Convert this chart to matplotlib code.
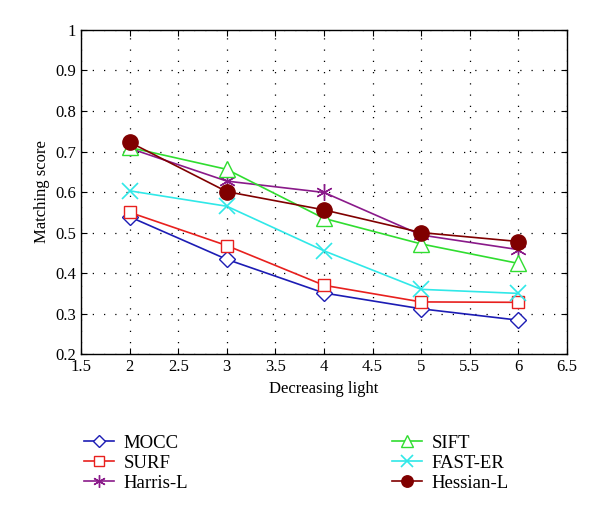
import matplotlib
matplotlib.use("Agg")
import matplotlib.pyplot as plt

plt.rcParams['font.family'] = ['Liberation Serif', 'DejaVu Serif']

x = [2, 3, 4, 5, 6]
mocc = [0.539, 0.434, 0.351, 0.312, 0.284]
surf = [0.550, 0.468, 0.370, 0.329, 0.328]
harris = [0.708, 0.627, 0.599, 0.494, 0.458]
sift = [0.710, 0.656, 0.535, 0.472, 0.424]
fast = [0.603, 0.565, 0.455, 0.360, 0.350]
hessian = [0.723, 0.601, 0.556, 0.500, 0.478]

xticks = [1.5, 2, 2.5, 3, 3.5, 4, 4.5, 5, 5.5, 6, 6.5]
yticks = [0.2, 0.3, 0.4, 0.5, 0.6, 0.7, 0.8, 0.9, 1.0]

fig = plt.figure(figsize=(6, 5.24), dpi=100)
ax = fig.add_axes([0.135, 0.324, 0.81, 0.619])

ax.plot(x, mocc, color='#1c1cb4', marker='D', markersize=8, mfc='white', mec='#1c1cb4', lw=1.2, label='MOCC')
ax.plot(x, surf, color='#e8201e', marker='s', markersize=9, mfc='white', mec='#e8201e', lw=1.2, label='SURF')
ax.plot(x, harris, color='#8a1a8a', marker=(6, 2, 0), markersize=12, mec='#8a1a8a', lw=1.2, label='Harris-L')
ax.plot(x, sift, color='#30dd30', marker='^', markersize=11, mfc='white', mec='#30dd30', lw=1.2, label='SIFT')
ax.plot(x, fast, color='#30e8e8', marker='x', markersize=11, mew=1.2, lw=1.2, label='FAST-ER')
ax.plot(x, hessian, color='#800000', marker='o', markersize=11, mfc='#800000', lw=1.2, label='Hessian-L')

ax.set_xlim(1.5, 6.5)
ax.set_ylim(0.2, 1.0)
ax.set_xticks(xticks)
ax.set_xticklabels([f"{t:g}" for t in xticks])
ax.set_yticks(yticks)
ax.set_yticklabels([f"{t:g}" for t in yticks])
ax.grid(True, linestyle=(0, (1, 8)), color='black', linewidth=0.9)
ax.tick_params(direction='in', top=True, right=True, labelsize=12, length=4)
for s in ax.spines.values():
    s.set_linewidth(1.0)
ax.set_xlabel('Decreasing light', fontsize=12)
ax.set_ylabel('Matching score', fontsize=12)

fig.legend(loc='upper left', bbox_to_anchor=(0.14, 0.171), ncol=2, frameon=False,
           fontsize=13.5, columnspacing=10.9, handlelength=1.6, labelspacing=0.16,
           handletextpad=0.5, markerscale=0.75, borderpad=0, borderaxespad=0)

fig.savefig('out.png', dpi=100)
